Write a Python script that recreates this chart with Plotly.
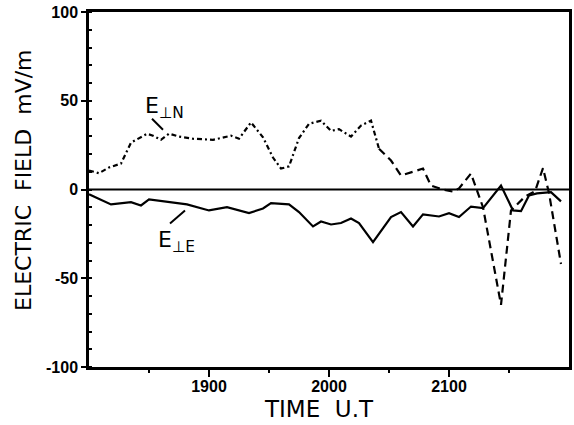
import plotly.graph_objects as go

# time in minutes after 18:00 UT
t_north = [0, 5, 10, 16, 21, 29, 32, 36, 40, 45, 52, 62, 71, 75, 81, 87, 92, 96, 100,
           105, 110, 116, 121, 125, 131, 136, 141, 145, 151, 156, 161, 167, 171, 177,
           182, 185, 191, 197, 206, 211, 218, 223, 227, 230, 236]
e_north = [10.7, 9.2, 12.4, 14.6, 26.4, 31.4, 30.3, 28.0, 31.5, 29.8, 28.6, 28.0, 30.3,
           28.6, 37.8, 29.4, 18.0, 11.8, 13.0, 29.0, 37.0, 38.8, 33.0, 34.0, 29.8, 36.0,
           38.8, 23.0, 16.3, 7.9, 9.6, 11.8, 2.2, 0.0, -1.2, 0.6, 9.0, -10.0, -65.0,
           -11.8, -4.0, -1.0, 12.0, -2.0, -42.0]

t_east = [0, 11, 21, 26, 30, 40, 49, 60, 69, 80, 87, 91, 100, 105, 112, 116, 121, 126,
          131, 135, 142, 151, 156, 162, 167, 175, 180, 185, 191, 197, 206, 212, 216, 220,
          224, 231, 236]
e_east = [-2.7, -8.4, -7.1, -9.0, -5.6, -7.1, -8.4, -11.8, -9.9, -13.3, -10.7, -7.7, -8.4,
          -12.7, -20.8, -18.0, -19.7, -18.9, -16.3, -18.9, -29.6, -15.5, -12.7, -20.8,
          -14.0, -15.2, -13.3, -15.5, -9.6, -10.5, 2.2, -11.8, -12.2, -3.4, -2.2, -1.5, -6.7]

x_tickvals = [60, 120, 180]
x_ticktext = ["1900", "2000", "2100"]
y_tickvals = [-100, -50, 0, 50, 100]
y_ticktext = ["-100", "-50", "0", "50", "100"]

split = 27  # index where the trace changes from dash-dot to dashed

FONT = "DejaVu Sans, sans-serif"
TICKFONT = "Liberation Sans, Arial, sans-serif"

fig = go.Figure()
fig.add_trace(go.Scatter(x=t_north[:split + 1], y=e_north[:split + 1], mode="lines",
                         line=dict(color="black", width=2.2, dash="5px,3px,2px,3px"),
                         showlegend=False))
fig.add_trace(go.Scatter(x=t_north[split:], y=e_north[split:], mode="lines",
                         line=dict(color="black", width=2.2, dash="8px,5px"),
                         showlegend=False))
fig.add_trace(go.Scatter(x=t_east, y=e_east, mode="lines",
                         line=dict(color="black", width=2.2),
                         showlegend=False))

# zero line
fig.add_hline(y=0, line=dict(color="black", width=2.2), layer="below")

# labels and leader lines
fig.add_annotation(x=37.5, y=46, xref="x", yref="y", text="E<sub>⊥N</sub>",
                   showarrow=False, font=dict(family=FONT, size=22, color="black"))
fig.add_annotation(x=43.5, y=-29.5, xref="x", yref="y", text="E<sub>⊥E</sub>",
                   showarrow=False, font=dict(family=FONT, size=22, color="black"))
fig.add_shape(type="line", x0=31.5, y0=39.9, x1=37, y1=33.7, xref="x", yref="y",
              line=dict(color="black", width=2))
fig.add_shape(type="line", x0=40.5, y0=-19.1, x1=48, y1=-11.8, xref="x", yref="y",
              line=dict(color="black", width=2))

# axis titles (positions given in pixels, converted to paper below)
fig.add_annotation(x=23, y=180, xref="paper", yref="paper", text="ELECTRIC  FIELD  mV/m",
                   textangle=-90, showarrow=False, xanchor="center", yanchor="middle",
                   font=dict(family=FONT, size=22, color="black"))
fig.add_annotation(x=319, y=409, xref="paper", yref="paper", text="TIME  U.T",
                   showarrow=False, xanchor="center", yanchor="middle",
                   font=dict(family=FONT, size=23, color="black"))

W, H = 574, 425
L, R, T, B = 89, 5, 12, 58
for ann in fig.layout.annotations:
    if ann.xref == "paper":
        ann.x = (ann.x - L) / (W - L - R)
        ann.y = 1 - (ann.y - T) / (H - T - B)

fig.update_layout(
    width=W, height=H,
    margin=dict(l=L, r=R, t=T, b=B),
    plot_bgcolor="white", paper_bgcolor="white",
    font=dict(family=FONT, color="black"),
    xaxis=dict(range=[0, 240], tickvals=x_tickvals,
               ticktext=["<b>%s</b>" % s for s in x_ticktext],
               ticks="outside", ticklen=7, tickwidth=2, tickcolor="black",
               ticklabelstandoff=-4, automargin=False,
               showline=True, linewidth=2.5, linecolor="black", mirror=True,
               showgrid=False, zeroline=False,
               tickfont=dict(family=TICKFONT, size=16, color="black"),
               minor=dict(tickvals=[30, 90, 150, 210], ticks="outside", ticklen=3,
                          tickwidth=2, tickcolor="black")),
    yaxis=dict(range=[-100, 100], tickvals=y_tickvals,
               ticktext=["<b>%s</b>" % s for s in y_ticktext],
               ticks="outside", ticklen=5, tickwidth=2, tickcolor="black",
               automargin=False,
               showline=True, linewidth=2.5, linecolor="black", mirror=True,
               showgrid=False, zeroline=False,
               tickfont=dict(family=TICKFONT, size=16, color="black"),
               minor=dict(dtick=10, ticks="inside", ticklen=3, tickwidth=1.5,
                          tickcolor="black")),
)

fig.write_html("out.html", config={"displayModeBar": False},
               post_script="document.body.style.margin='0';document.body.style.overflow='hidden';")
